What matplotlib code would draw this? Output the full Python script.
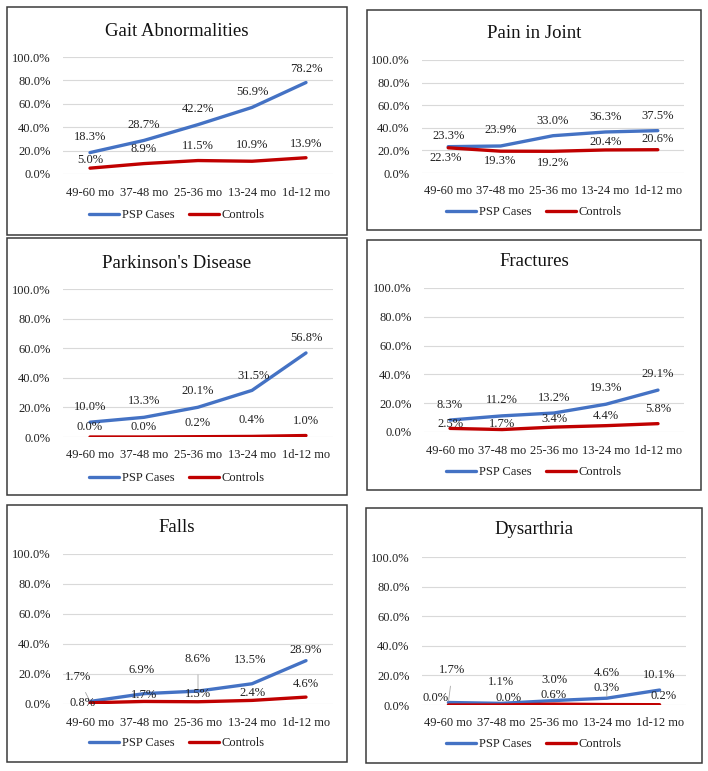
import numpy as np
import matplotlib
matplotlib.use('Agg')
import matplotlib.pyplot as plt
from matplotlib.patches import Rectangle

plt.rcParams['font.family'] = ['Liberation Serif', 'DejaVu Serif']

# categories on the x axis
periods = ['49-60 mo', '37-48 mo', '25-36 mo', '13-24 mo', '1d-12 mo']
yticks = [0, 20, 40, 60, 80, 100]

# panel titles
titles = ['Gait Abnormalities', 'Pain in Joint', "Parkinson's Disease",
          'Fractures', 'Falls', 'Dysarthria']

# percentages, PSP cases and controls
gait_psp = [18.3, 28.7, 42.2, 56.9, 78.2]
gait_ctrl = [5.0, 8.9, 11.5, 10.9, 13.9]
pain_psp = [23.3, 23.9, 33.0, 36.3, 37.5]
pain_ctrl = [22.3, 19.3, 19.2, 20.4, 20.6]
pd_psp = [10.0, 13.3, 20.1, 31.5, 56.8]
pd_ctrl = [0.0, 0.0, 0.2, 0.4, 1.0]
frac_psp = [8.3, 11.2, 13.2, 19.3, 29.1]
frac_ctrl = [2.5, 1.7, 3.4, 4.4, 5.8]
falls_psp = [1.7, 6.9, 8.6, 13.5, 28.9]
falls_ctrl = [0.8, 1.7, 1.5, 2.4, 4.6]
dys_psp = [1.7, 1.1, 3.0, 4.6, 10.1]
dys_ctrl = [0.0, 0.0, 0.6, 0.3, 0.2]

psp_series = [gait_psp, pain_psp, pd_psp, frac_psp, falls_psp, dys_psp]
ctrl_series = [gait_ctrl, pain_ctrl, pd_ctrl, frac_ctrl, falls_ctrl, dys_ctrl]

# layout in pixels: outer box (x0, y0, x1, y1) and plot area (x0, y0, x1, y1)
boxes = [(7, 7, 347, 235), (367, 10, 701, 230),
         (7, 238, 347, 495), (367, 240, 701, 490),
         (7, 505, 347, 762), (366, 508, 702, 763)]
plots = [(63, 57, 333, 174), (422, 60, 684, 173),
         (63, 289, 333, 437), (424, 288, 684, 432),
         (63, 554, 333, 704), (422, 557, 686, 705)]
title_y = [32, 33, 263, 262, 527, 530]
legend_y = [215, 212, 478, 472, 743, 744]

# label offsets in pixels (dx, dy) from each point, dy upwards
psp_off = [[(0, 16), (0, 15), (0, 16), (0, 15), (0, 14)],
           [(0, 11), (0, 16), (0, 15), (0, 15), (0, 15)],
           [(0, 15), (0, 16), (0, 16), (2, 14), (0, 15)],
           [(0, 15), (0, 16), (0, 15), (0, 16), (0, 16)],
           [(-12, 24), (-2, 24), (0, 32), (-2, 24), (0, 11)],
           [(4, 32), (0, 21), (0, 21), (0, 25), (0, 15)]]
ctrl_off = [[(0, 8), (0, 15), (0, 15), (0, 16), (0, 14)],
            [(-3, -10), (0, -10), (0, -12), (0, 8), (0, 11)],
            [(0, 10), (0, 10), (0, 14), (0, 16), (0, 15)],
            [(0, 4), (0, 6), (0, 8), (0, 10), (0, 15)],
            [(-7, 0), (0, 6), (0, 8), (0, 7), (0, 13)],
            [(-13, 7), (7, 7), (0, 9), (0, 17), (4, 9)]]
# which psp labels get a leader line
leaders = {(4, 0), (4, 2), (5, 0), (5, 2), (5, 3)}

W, H = 708, 771
fig = plt.figure(figsize=(W / 100, H / 100), dpi=100)
fig.patch.set_facecolor('white')

blue = '#4472C4'
red = '#C00000'
txt = '#222222'
x = np.arange(len(periods))

for i in range(6):
    bx0, by0, bx1, by1 = boxes[i]
    fig.patches.append(Rectangle((bx0 / W, 1 - by1 / H), (bx1 - bx0) / W, (by1 - by0) / H,
                                 transform=fig.transFigure, fill=False,
                                 edgecolor='#3a3a3a', linewidth=1.1))
    px0, py0, px1, py1 = plots[i]
    ax = fig.add_axes([px0 / W, 1 - py1 / H, (px1 - px0) / W, (py1 - py0) / H])
    ax.set_xlim(-0.5, len(periods) - 0.5)
    ax.set_ylim(0, 100)
    ax.set_yticks(yticks)
    ax.set_yticklabels(['%.1f%%' % v for v in yticks])
    ax.set_xticks(x)
    ax.set_xticklabels(periods)
    ax.tick_params(length=0, labelsize=9, colors=txt)
    ax.tick_params(axis='y', pad=9)
    ax.tick_params(axis='x', pad=9)
    for s in ax.spines.values():
        s.set_visible(False)
    ax.grid(axis='y', color='#d9d9d9', linewidth=0.8)
    ax.set_axisbelow(True)

    l1, = ax.plot(x, psp_series[i], color=blue, linewidth=2.4, solid_capstyle='round',
                  label='PSP Cases', zorder=3)
    l2, = ax.plot(x, ctrl_series[i], color=red, linewidth=2.4, solid_capstyle='round',
                  label='Controls', zorder=3)

    # data labels
    for j in range(len(periods)):
        dx, dy = psp_off[i][j]
        arrow = None
        if (i, j) in leaders:
            arrow = dict(arrowstyle='-', color='#a6a6a6', lw=0.6, shrinkA=5, shrinkB=1)
        ax.annotate('%.1f%%' % psp_series[i][j], (x[j], psp_series[i][j]),
                    xytext=(dx * 0.72, dy * 0.72), textcoords='offset points',
                    ha='center', va='center', fontsize=9, color=txt,
                    arrowprops=arrow, annotation_clip=False, zorder=4)
        dx, dy = ctrl_off[i][j]
        ax.annotate('%.1f%%' % ctrl_series[i][j], (x[j], ctrl_series[i][j]),
                    xytext=(dx * 0.72, dy * 0.72), textcoords='offset points',
                    ha='center', va='center', fontsize=9, color=txt,
                    annotation_clip=False, zorder=4)

    cx = (bx0 + bx1) / 2 / W
    fig.text(cx, 1 - title_y[i] / H, titles[i], ha='center', va='center',
             fontsize=13.5, color='#111111')
    ax.legend(handles=[l1, l2], loc='center', bbox_to_anchor=(cx, 1 - legend_y[i] / H),
              bbox_transform=fig.transFigure, ncol=2, frameon=False, fontsize=9,
              handlelength=2.4, handletextpad=0.2, columnspacing=1.2,
              labelcolor=txt)

plt.savefig('out.png', dpi=100)
